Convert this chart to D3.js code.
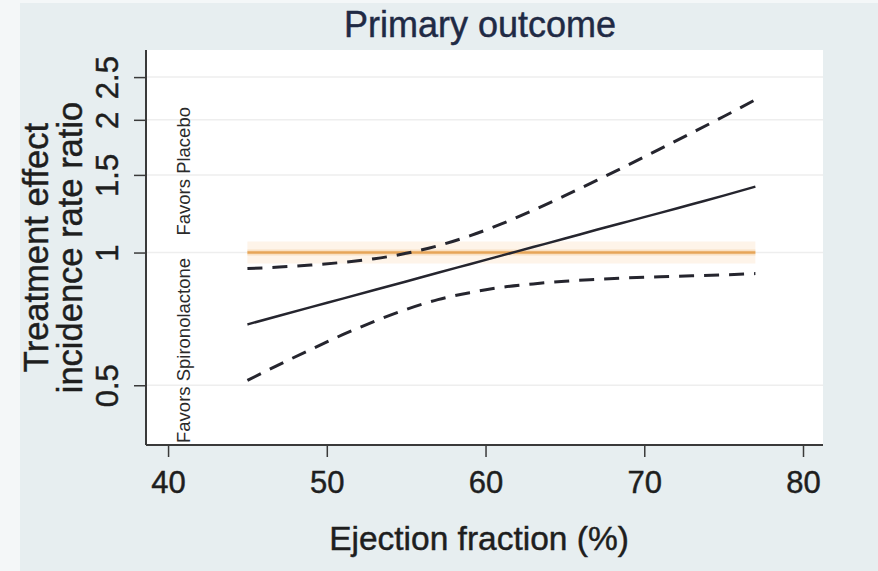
<!DOCTYPE html>
<html>
<head>
<meta charset="utf-8">
<script src="https://cdn.jsdelivr.net/npm/d3@7"></script>
<style>
  html, body { margin: 0; padding: 0; background: #f4f7f8; }
  svg { display: block; font-family: "Liberation Sans", Arial, Helvetica, sans-serif; }
  text { stroke-width: 0.45px; }
</style>
</head>
<body>
<svg id="chart" width="878" height="571"></svg>
<script>
// ejection fraction grid (%)
const ef = [45, 47, 49, 51, 53, 55, 57, 59, 61, 63, 65, 67, 69, 71, 73, 75, 77];
// incidence rate ratio estimate and 95% CI
const irr   = [0.687, 0.719, 0.752, 0.786, 0.822, 0.860, 0.900, 0.941, 0.984, 1.029, 1.076, 1.126, 1.177, 1.230, 1.287, 1.346, 1.411];
const upper = [0.920, 0.927, 0.937, 0.950, 0.968, 0.996, 1.036, 1.091, 1.161, 1.247, 1.346, 1.458, 1.581, 1.718, 1.869, 2.035, 2.221];
const lower = [0.513, 0.557, 0.603, 0.651, 0.698, 0.743, 0.782, 0.811, 0.834, 0.849, 0.861, 0.869, 0.876, 0.881, 0.886, 0.890, 0.896];
const refLine = [1, 1];
const refRange = [45, 77];

const xTicks = [40, 50, 60, 70, 80];
const yTicks = [0.5, 1, 1.5, 2, 2.5];

const W = 878, H = 571;
const plot = { left: 146, right: 823, top: 50, bottom: 445 };

const svg = d3.select('#chart');

const x = d3.scaleLinear().domain([38.61, 81.26]).range([plot.left, plot.right]);
const y = d3.scaleLog().domain([0.366, 2.88]).range([plot.bottom, plot.top]);

// graph region background
svg.append('rect')
    .attr('x', 20).attr('y', 3)
    .attr('width', W - 20).attr('height', H - 3)
    .attr('fill', '#e7eef0');

// plot region
svg.append('rect')
    .attr('x', plot.left).attr('y', plot.top)
    .attr('width', plot.right - plot.left).attr('height', plot.bottom - plot.top)
    .attr('fill', '#ffffff');

// gridlines
svg.append('g')
    .selectAll('line')
    .data(yTicks)
    .enter()
    .append('line')
    .attr('x1', plot.left).attr('x2', plot.right)
    .attr('y1', d => y(d)).attr('y2', d => y(d))
    .attr('stroke', '#eeeeee')
    .attr('stroke-width', 1.5);

// axes
const yAxis = d3.axisLeft(y)
    .tickValues(yTicks)
    .tickFormat(d3.format('~g'))
    .tickSize(12)
    .tickSizeOuter(0);
const gy = svg.append('g')
    .attr('transform', 'translate(' + plot.left + ',0)')
    .call(yAxis);
gy.select('.domain').attr('stroke', '#3a3a3a').attr('stroke-width', 2)
    .attr('d', 'M0,' + plot.top + 'V' + plot.bottom);
gy.selectAll('.tick line').attr('stroke', '#3a3a3a').attr('stroke-width', 1.5);
gy.selectAll('.tick text')
    .attr('font-size', 31)
    .attr('fill', '#1e1e1e')
    .attr('stroke', '#1e1e1e')
    .attr('text-anchor', 'middle')
    .attr('transform', 'rotate(-90)')
    .attr('x', 0).attr('y', -28)
    .attr('dy', 0);

const xAxis = d3.axisBottom(x)
    .tickValues(xTicks)
    .tickFormat(d3.format('d'))
    .tickSize(12)
    .tickSizeOuter(0);
const gx = svg.append('g')
    .attr('transform', 'translate(0,' + plot.bottom + ')')
    .call(xAxis);
gx.select('.domain').attr('stroke', '#3a3a3a').attr('stroke-width', 2)
    .attr('d', 'M' + plot.left + ',0H' + plot.right);
gx.selectAll('.tick line').attr('stroke', '#3a3a3a').attr('stroke-width', 1.5);
gx.selectAll('.tick text')
    .attr('font-size', 31)
    .attr('fill', '#1e1e1e')
    .attr('stroke', '#1e1e1e')
    .attr('y', 48)
    .attr('dy', 0);
svg.selectAll('.domain, .tick').attr('font-family', null);
gy.attr('font-family', null);
gx.attr('font-family', null);

// reference line at IRR = 1 (soft glow + line)
const refData = refRange.map((d, i) => ({ x: d, y: refLine[i] }));
const refPath = d3.line().x(d => x(d.x)).y(d => y(d.y));
svg.append('path')
    .attr('d', refPath(refData))
    .attr('fill', 'none')
    .attr('stroke', '#fdf0e0')
    .attr('stroke-width', 22)
    .attr('opacity', 0.7);
svg.append('path')
    .attr('d', refPath(refData))
    .attr('fill', 'none')
    .attr('stroke', '#f6d9b4')
    .attr('stroke-width', 6)
    .attr('opacity', 0.7);
svg.append('path')
    .attr('d', refPath(refData))
    .attr('fill', 'none')
    .attr('stroke', '#e6a558')
    .attr('stroke-width', 2.5);

// estimate and confidence band
const series = [
    { name: 'upper', values: upper, dash: '15,10' },
    { name: 'lower', values: lower, dash: '15,10' },
    { name: 'irr', values: irr, dash: null }
];
const line = d3.line()
    .x((d, i) => x(ef[i]))
    .y(d => y(d))
    .curve(d3.curveMonotoneX);

svg.append('g')
    .selectAll('path')
    .data(series)
    .enter()
    .append('path')
    .attr('d', d => line(d.values))
    .attr('fill', 'none')
    .attr('stroke', '#25252e')
    .attr('stroke-width', d => d.dash ? 3 : 2.5)
    .attr('stroke-dasharray', d => d.dash);

// annotations inside the plot
svg.append('text')
    .attr('transform', 'translate(' + (plot.left + 44) + ',' + (plot.bottom - 2) + ') rotate(-90)')
    .attr('font-size', 18.5)
    .attr('fill', '#2a2a2a')
    .text('Favors Spironolactone');
svg.append('text')
    .attr('transform', 'translate(' + (plot.left + 44) + ',' + (y(1) - 17) + ') rotate(-90)')
    .attr('font-size', 18.5)
    .attr('fill', '#2a2a2a')
    .text('Favors Placebo');

// titles
svg.append('text')
    .attr('x', 480).attr('y', 37)
    .attr('text-anchor', 'middle')
    .attr('font-size', 36)
    .attr('fill', '#1f2a45')
    .attr('stroke', '#1f2a45')
    .text('Primary outcome');

svg.append('text')
    .attr('x', 479).attr('y', 550)
    .attr('text-anchor', 'middle')
    .attr('font-size', 33.5)
    .attr('fill', '#1e1e1e')
    .attr('stroke', '#1e1e1e')
    .text('Ejection fraction (%)');

const yMid = (plot.top + plot.bottom) / 2;
svg.append('text')
    .attr('transform', 'translate(48,' + yMid + ') rotate(-90)')
    .attr('text-anchor', 'middle')
    .attr('font-size', 34.5)
    .attr('fill', '#1e1e1e')
    .attr('stroke', '#1e1e1e')
    .text('Treatment effect');
svg.append('text')
    .attr('transform', 'translate(82,' + yMid + ') rotate(-90)')
    .attr('text-anchor', 'middle')
    .attr('font-size', 34.5)
    .attr('fill', '#1e1e1e')
    .attr('stroke', '#1e1e1e')
    .text('incidence rate ratio');
</script>
</body>
</html>
